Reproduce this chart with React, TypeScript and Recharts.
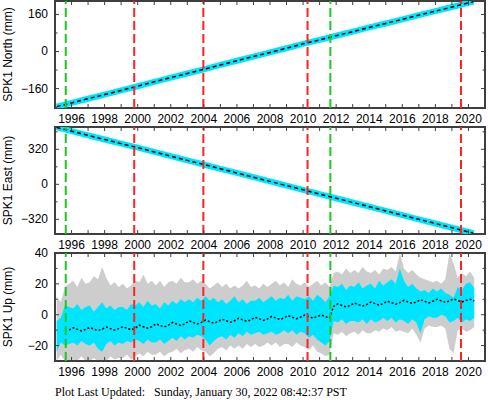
import React from "react";
import { ComposedChart, Line, Area, XAxis, YAxis, ReferenceLine, ReferenceArea } from "recharts";

// axis ticks / event markers
const yearTicks = [1995, 1996, 1997, 1998, 1999, 2000, 2001, 2002, 2003, 2004, 2005, 2006, 2007, 2008, 2009, 2010, 2011, 2012, 2013, 2014, 2015, 2016, 2017, 2018, 2019, 2020, 2021];
const yearLabels = [1996, 1998, 2000, 2002, 2004, 2006, 2008, 2010, 2012, 2014, 2016, 2018, 2020];
const greenEvents = [1995.65, 2011.65];
const redEvents = [1999.79, 2003.97, 2010.27, 2019.55];

const northTicks = [-160, -80, 0, 80, 160];
const northLabels = [-160, 0, 160];
const eastTicks = [-320, -160, 0, 160, 320, 480];
const eastLabels = [-320, 0, 320];
const upTicks = [-20, -10, 0, 10, 20, 30, 40];
const upLabels = [-20, 0, 20, 40];

// North / East positions (mm)
const enuYears = [1995.1, 1996, 1997, 1998, 1999, 2000, 2001, 2002, 2003, 2004, 2005, 2006, 2007, 2008, 2009, 2010, 2011, 2012, 2013, 2014, 2015, 2016, 2017, 2018, 2019, 2020.3];
const northValues = [-238, -222, -204, -186, -168, -150, -131, -113, -95, -77, -58, -40, -22, -4, 14, 33, 50, 68, 86, 104, 121, 139, 157, 174, 192, 215];
const eastValues = [520, 486, 448, 410, 372, 335, 296, 258, 219, 181, 142, 104, 65, 27, -12, -50, -89, -127, -166, -204, -243, -281, -320, -358, -397, -447];

// Up: spread of daily points, error bars and model (mm)
const upYears = [
  1995.1, 1995.35, 1995.6, 1995.85, 1996.1, 1996.35, 1996.6, 1996.85, 1997.1, 1997.35, 1997.6, 1997.85,
  1998.1, 1998.35, 1998.6, 1998.85, 1999.1, 1999.35, 1999.6, 1999.85, 2000.1, 2000.35, 2000.6, 2000.85,
  2001.1, 2001.35, 2001.6, 2001.85, 2002.1, 2002.35, 2002.6, 2002.85, 2003.1, 2003.35, 2003.6, 2003.85,
  2004.1, 2004.35, 2004.6, 2004.85, 2005.1, 2005.35, 2005.6, 2005.85, 2006.1, 2006.35, 2006.6, 2006.85,
  2007.1, 2007.35, 2007.6, 2007.85, 2008.1, 2008.35, 2008.6, 2008.85, 2009.1, 2009.35, 2009.6, 2009.85,
  2010.1, 2010.35, 2010.6, 2010.85, 2011.1, 2011.35, 2011.6, 2011.85, 2012.1, 2012.35, 2012.6, 2012.85,
  2013.1, 2013.35, 2013.6, 2013.85, 2014.1, 2014.35, 2014.6, 2014.85, 2015.1, 2015.35, 2015.6, 2015.85,
  2016.1, 2016.35, 2016.6, 2016.85, 2017.1, 2017.35, 2017.6, 2017.85, 2018.1, 2018.35, 2018.6, 2018.85,
  2019.1, 2019.35, 2019.6, 2019.85, 2020.1, 2020.35,
];
const upCyanHigh = [
  -4, -2, 6, 5, 4, 7, 3, 5, 6, 2, 5, 8,
  4, 6, 3, 5, 5, 3, 7, 6, 8, 5, 9, 6,
  7, 4, 8, 6, 9, 7, 10, 8, 10, 8, 11, 9,
  12, 9, 11, 8, 10, 7, 9, 12, 8, 10, 7, 9,
  9, 11, 8, 10, 12, 9, 11, 10, 13, 9, 12, 11,
  10, 12, 9, 13, 11, 8, 12, 19, 18, 20, 16, 19,
  18, 21, 17, 19, 20, 17, 22, 19, 21, 23, 20, 30,
  22, 18, 20, 17, 15, 16, 14, 17, 15, 17, 14, 13,
  11, 18, 16, 20, 21, 17,
];
const upCyanLow = [
  -24, -18, -20, -19, -18, -20, -17, -19, -20, -18, -22, -24,
  -19, -17, -20, -18, -19, -17, -18, -16, -17, -19, -16, -18,
  -18, -16, -19, -17, -15, -17, -14, -16, -14, -15, -13, -14,
  -16, -20, -17, -15, -14, -16, -13, -15, -12, -14, -11, -13,
  -12, -11, -13, -12, -11, -13, -12, -10, -12, -10, -13, -11,
  -12, -15, -13, -16, -18, -20, -17, -4, -5, -3, -6, -4,
  -4, -5, -3, -6, -3, -5, -4, -2, -4, -2, -5, -3,
  -4, -6, -3, -5, -12, -3, -1, -2, -2, 0, -1, -5,
  -4, -2, -5, -3, -4, -2,
];
const upGrayHigh = [
  12, 8, 18, 20, 22, 18, 24, 20, 21, 25, 23, 31,
  24, 19, 21, 18, 20, 17, 19, 22, 21, 26, 20, 22,
  19, 22, 18, 21, 22, 20, 24, 21, 21, 23, 20, 22,
  20, 17, 19, 21, 18, 20, 17, 19, 17, 19, 22, 18,
  19, 17, 20, 18, 20, 22, 19, 21, 18, 23, 20, 19,
  21, 18, 20, 22, 19, 21, 18, 27, 28, 26, 30, 27,
  29, 27, 31, 28, 27, 29, 26, 30, 29, 31, 28, 40,
  30, 27, 29, 26, 24, 23, 22, 21, 22, 20, 23, 40,
  33, 24, 27, 25, 28, 24,
];
const upGrayLow = [
  -30, -26, -30, -30, -29, -30, -27, -30, -30, -28, -30, -30,
  -30, -27, -29, -28, -28, -26, -29, -27, -25, -27, -24, -26,
  -26, -24, -27, -25, -24, -22, -25, -23, -22, -24, -21, -23,
  -24, -27, -25, -22, -21, -23, -20, -22, -20, -22, -19, -21,
  -19, -21, -20, -18, -20, -18, -21, -19, -19, -21, -18, -20,
  -21, -23, -20, -24, -25, -27, -26, -12, -13, -11, -14, -12,
  -11, -13, -10, -12, -12, -10, -11, -9, -10, -8, -11, -10,
  -11, -12, -9, -13, -18, -9, -7, -8, -8, -7, -9, -22,
  -25, -10, -9, -11, -10, -8,
];
const upModel = [
  null, null, null, -10, -8.5, -9.5, -10.5, -9.5, -8.3, -9.3, -10.3, -9.3,
  -8, -9, -10, -9, -7.8, -8.8, -9.8, -8.8, -6.8, -7.8, -8.8, -7.8,
  -5.9, -6.9, -7.9, -6.9, -5, -6, -7, -6, -4, -5, -6, -5,
  -3.5, -4.5, -5.5, -4.5, -2.9, -3.9, -4.9, -3.9, -2.3, -3.3, -4.3, -3.3,
  -1.7, -2.7, -3.7, -2.7, -1.1, -2.1, -3.1, -2.1, -0.6, -1.6, -2.6, -1.6,
  -0.2, -1.2, -2.2, -1.2, -0.2, -1.2, -2.2, 5.5, 7, 6, 5, 6,
  7.6, 6.6, 5.6, 6.6, 8.2, 7.2, 6.2, 7.2, 8.8, 7.8, 6.8, 7.8,
  9.3, 8.3, 7.3, 8.3, 9.7, 8.7, 7.7, 8.7, 10, 9, 8, 9,
  10.2, 9.2, 8.2, 9.2, 10, 9,
];

const northData = enuYears.map((t, i) => ({ t, v: northValues[i] }));
const eastData = enuYears.map((t, i) => ({ t, v: eastValues[i] }));
const upData = upYears.map((t, i) => ({
  t,
  c: [upCyanLow[i], upCyanHigh[i]],
  g: [upGrayLow[i], upGrayHigh[i]],
  m: upModel[i],
}));

const FRAME = "#3f3f3f";
const CYAN = "#00e5ff";
const GRAY = "#cdcdcd";
const GREEN = "#1ec81e";
const RED = "#ff2222";
const TICK_FONT = '"Liberation Sans Narrow", "Liberation Sans", Arial, sans-serif';
const TITLE_FONT = '"Liberation Sans", Arial, sans-serif';

const CHART_W = 488;
const PLOT_LEFT = 55;
const PLOT_RIGHT = 485;
const PAD_TOP = 11;
const AXIS_H = 21;

const fmt = (v: number) => (v < 0 ? "\u2212" + Math.abs(v) : String(v));

function Panel({ top, plotH, data, domain, ticks, labels, title, children }: any) {
  const xTick = ({ x, y, payload }: any) => (
    <g>
      <line x1={x} x2={x} y1={y} y2={y - 4} stroke={FRAME} />
      <line x1={x} x2={x} y1={PAD_TOP} y2={PAD_TOP + 4} stroke={FRAME} />
      {yearLabels.includes(payload.value) && (
        <text x={x} y={y + 15} textAnchor="middle" fontFamily={TICK_FONT} fontSize={12} fill="#000">
          {payload.value}
        </text>
      )}
    </g>
  );
  const yTick = ({ x, y, payload }: any) => {
    const major = labels.includes(payload.value);
    const len = major ? 4 : 2.5;
    return (
      <g>
        <line x1={x} x2={x + len} y1={y} y2={y} stroke={FRAME} />
        <line x1={PLOT_RIGHT} x2={PLOT_RIGHT - len} y1={y} y2={y} stroke={FRAME} />
        {major && (
          <text x={x - 7} y={y + 4} textAnchor="end" fontFamily={TICK_FONT} fontSize={12} fill="#000">
            {fmt(payload.value)}
          </text>
        )}
      </g>
    );
  };
  const titleLabel = () => (
    <text
      transform={`translate(12, ${PAD_TOP + plotH / 2}) rotate(-90)`}
      textAnchor="middle"
      fontFamily={TITLE_FONT}
      fontSize={12}
      fill="#000"
    >
      {title}
    </text>
  );

  return (
    <div style={{ position: "absolute", left: 0, top: top - PAD_TOP }}>
      <ComposedChart
        width={CHART_W}
        height={PAD_TOP + plotH + AXIS_H}
        data={data}
        margin={{ top: PAD_TOP, right: CHART_W - PLOT_RIGHT, bottom: 0, left: 0 }}
      >
        <XAxis
          dataKey="t"
          type="number"
          domain={[1995, 2021]}
          ticks={yearTicks}
          interval={0}
          height={AXIS_H}
          axisLine={false}
          tickLine={false}
          tickSize={0}
          tickMargin={0}
          tick={xTick}
          allowDataOverflow
        />
        <YAxis
          type="number"
          domain={domain}
          ticks={ticks}
          interval={0}
          width={PLOT_LEFT}
          axisLine={false}
          tickLine={false}
          tickSize={0}
          tickMargin={0}
          tick={yTick}
          allowDataOverflow
          label={{ content: titleLabel }}
        />
        {children}
        {greenEvents.map((e) => (
          <ReferenceLine key={"g" + e} x={e} stroke={GREEN} strokeWidth={2} strokeDasharray="9 4" />
        ))}
        {redEvents.map((e) => (
          <ReferenceLine key={"r" + e} x={e} stroke={RED} strokeWidth={2} strokeDasharray="9 4" />
        ))}
        <ReferenceArea x1={1995} x2={2021} y1={domain[0]} y2={domain[1]} fill="none" stroke={FRAME} strokeWidth={2} ifOverflow="visible" />
      </ComposedChart>
    </div>
  );
}

export default function App() {
  return (
    <div style={{ position: "absolute", left: 0, top: 0, width: 488, height: 400, background: "#fff" }}>
      <Panel top={1} plotH={107} data={northData} domain={[-244, 218]} ticks={northTicks} labels={northLabels} title="SPK1 North (mm)">
        <Line dataKey="v" stroke={CYAN} strokeWidth={6} dot={false} activeDot={false} isAnimationActive={false} />
        <Line dataKey="v" stroke="#000" strokeWidth={1.5} strokeDasharray="4 3" dot={false} activeDot={false} isAnimationActive={false} />
      </Panel>
      <Panel top={127} plotH={107} data={eastData} domain={[-454, 524]} ticks={eastTicks} labels={eastLabels} title="SPK1 East (mm)">
        <Line dataKey="v" stroke={CYAN} strokeWidth={6} dot={false} activeDot={false} isAnimationActive={false} />
        <Line dataKey="v" stroke="#000" strokeWidth={1.5} strokeDasharray="4 3" dot={false} activeDot={false} isAnimationActive={false} />
      </Panel>
      <Panel top={253} plotH={108} data={upData} domain={[-30, 40]} ticks={upTicks} labels={upLabels} title="SPK1 Up (mm)">
        <Area dataKey="g" type="linear" stroke="none" fill={GRAY} fillOpacity={1} dot={false} activeDot={false} isAnimationActive={false} />
        <Area dataKey="c" type="linear" stroke="none" fill={CYAN} fillOpacity={1} dot={false} activeDot={false} isAnimationActive={false} />
        <Line dataKey="m" stroke="#000" strokeWidth={1.5} strokeDasharray="2 2" dot={false} activeDot={false} isAnimationActive={false} />
      </Panel>
      <div
        style={{
          position: "absolute",
          left: 55,
          top: 385,
          fontFamily: '"Liberation Serif", "Times New Roman", serif',
          fontSize: 12,
          lineHeight: "14px",
          whiteSpace: "pre",
          color: "#000",
        }}
      >
        {"Plot Last Updated:   Sunday, January 30, 2022 08:42:37 PST"}
      </div>
    </div>
  );
}
